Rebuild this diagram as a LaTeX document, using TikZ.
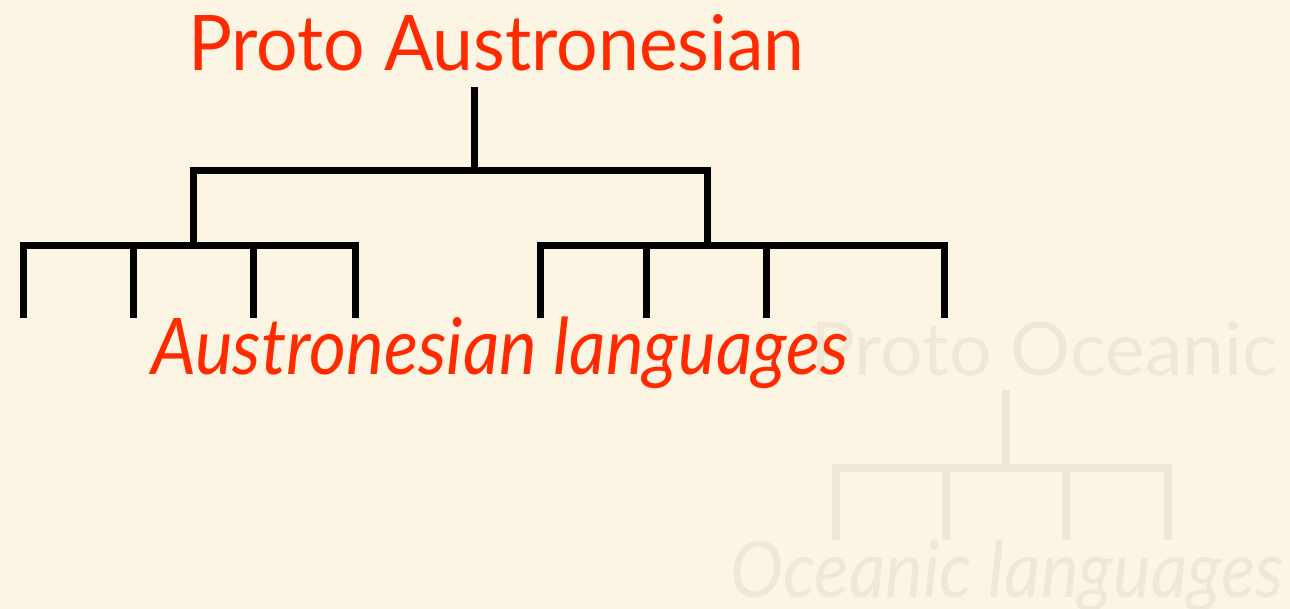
\documentclass[tikz,border=0pt]{standalone}
\usepackage{fontspec}
\setmainfont{Lato}
\usepackage{graphicx}

\definecolor{paper}{HTML}{FDF5E3}
\definecolor{title}{HTML}{FF2A00}
\definecolor{ghost}{HTML}{F0E8D6}

% Set a line of text to a given width and cap height (baseline kept at the box bottom).
\newsavebox\fitbox
\newcommand\fittext[3]{%
  \sbox\fitbox{#3}\setbox0\hbox{P}%
  \resizebox{#1}{#2}{\raisebox{0pt}[\ht0][0pt]{\usebox\fitbox}}}

\begin{document}
\begin{tikzpicture}[x=1pt,y=-1pt,
    label/.style={inner sep=0pt,anchor=base west},
    branch/.style={line width=7pt,black,line join=miter,line cap=butt},
    faintbranch/.style={line width=8pt,ghost,line join=miter,line cap=butt}]
  \useasboundingbox[fill=paper] (0,0) rectangle (1290,609);

  % Proto Oceanic subtree, faded into the background
  \node[label,text=ghost] (po) at (810,375) {\fittext{468pt}{53pt}{Proto Oceanic}};
  \node[label,text=ghost,font=\itshape] (ol) at (730,597) {\fittext{553pt}{56pt}{Oceanic languages}};
  \coordinate (po-top) at (1006,390);
  \coordinate (po-j) at (1006,467.5);
  \coordinate (o1) at (836,540);
  \coordinate (o2) at (946,540);
  \coordinate (o3) at (1066,540);
  \coordinate (o4) at (1168,540);
  \draw[faintbranch] (po-top) -- (po-j);
  \draw[faintbranch] (o1) |- (o4 |- po-j) -- (o4);
  \draw[faintbranch] (o2) -- (o2 |- po-j);
  \draw[faintbranch] (o3) -- (o3 |- po-j);

  % Proto Austronesian tree
  \node[label,text=title] (pa) at (188,71) {\fittext{616pt}{55pt}{Proto Austronesian}};
  \coordinate (pa-top) at (474.5,87);
  \coordinate (pa-j) at (474.5,167);
  \coordinate (gl) at (193.5,170.5);
  \coordinate (gr) at (707,170.5);
  \coordinate (gl-j) at (193.5,245.5);
  \coordinate (gr-j) at (707,245.5);
  \coordinate (a1) at (23.5,318);
  \coordinate (a2) at (133.5,318);
  \coordinate (a3) at (253.5,318);
  \coordinate (a4) at (355.5,318);
  \coordinate (b1) at (540.5,318);
  \coordinate (b2) at (646,318);
  \coordinate (b3) at (766,318);
  \coordinate (b4) at (944.5,318);

  \draw[branch] (pa-top) -- (pa-j);
  \draw[branch] (gl-j) -- (gl) -- (gr) -- (gr-j);
  \draw[branch] (a1) |- (a4 |- gl-j) -- (a4);
  \draw[branch] (a2) -- (a2 |- gl-j);
  \draw[branch] (a3) -- (a3 |- gl-j);
  \draw[branch] (b1) |- (b4 |- gr-j) -- (b4);
  \draw[branch] (b2) -- (b2 |- gr-j);
  \draw[branch] (b3) -- (b3 |- gr-j);

  \node[label,text=title,font=\itshape] (al) at (151,374) {\fittext{697pt}{56pt}{Austronesian languages}};
\end{tikzpicture}
\end{document}
